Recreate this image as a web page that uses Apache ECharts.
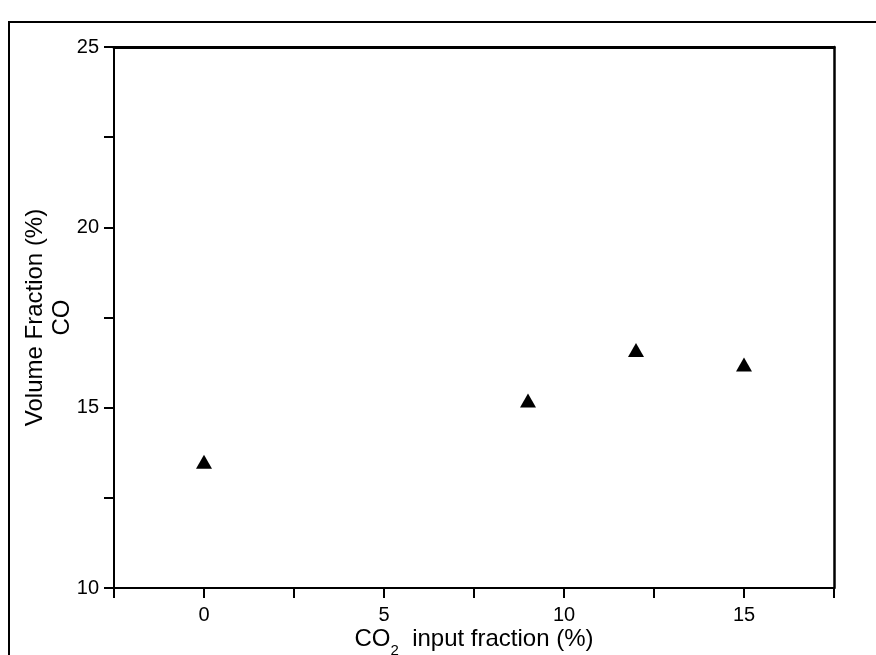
<!DOCTYPE html>
<html>
<head>
<meta charset="utf-8">
<script src="https://cdn.jsdelivr.net/npm/echarts@6/dist/echarts.min.js"></script>
<style>html,body{margin:0;padding:0;background:#fff}#c{width:876px;height:655px}</style>
</head>
<body>
<div id="c"></div>
<script>
const xValues = [0, 9, 12, 15];
const coValues = [13.5, 15.2, 16.6, 16.2];
const xTicks = [-2.5, 17.5, 5];
const yTicks = [10, 25, 5];

const chart = echarts.init(document.getElementById('c'));
const font = 'Liberation Sans, Arial, sans-serif';
chart.setOption({
  animation: false,
  backgroundColor: '#fff',
  graphic: [{
    type: 'rect', shape: {x: 9, y: 22, width: 900, height: 700},
    style: {fill: 'none', stroke: '#000', lineWidth: 2}, silent: true
  }],
  grid: {left: 114, right: 42, top: 47, bottom: 67, containLabel: false, outerBoundsMode: 'none'},
  xAxis: [{
    type: 'value', min: xTicks[0], max: xTicks[1], interval: 2.5,
    axisLine: {show: true, onZero: false, lineStyle: {color: '#000', width: 2}},
    axisTick: {show: true, length: 10, lineStyle: {color: '#000', width: 2}},
    splitLine: {show: false},
    axisLabel: {
      fontFamily: font, fontSize: 20, color: '#000', margin: 17,
      formatter: v => (v % xTicks[2] === 0 ? String(v) : '')
    },
    name: '{n|CO}{s|2}{n|  input fraction (%)}',
    nameLocation: 'middle', nameGap: 39, nameMoveOverlap: false,
    nameTextStyle: {
      rich: {
        n: {fontFamily: font, fontSize: 24, color: '#000'},
        s: {fontFamily: font, fontSize: 15, color: '#000', verticalAlign: 'bottom', padding: [0, 0, -7, 0]}
      }
    }
  }, {
    type: 'value', position: 'top', min: xTicks[0], max: xTicks[1],
    axisLine: {show: true, onZero: false, lineStyle: {color: '#000', width: 3}},
    axisTick: {show: false}, axisLabel: {show: false}, splitLine: {show: false}
  }],
  yAxis: [{
    type: 'value', min: yTicks[0], max: yTicks[1], interval: 2.5,
    axisLine: {show: true, onZero: false, lineStyle: {color: '#000', width: 2}},
    axisTick: {show: true, length: 10, lineStyle: {color: '#000', width: 2}},
    splitLine: {show: false},
    axisLabel: {
      fontFamily: font, fontSize: 20, color: '#000', margin: 15,
      formatter: v => (v % yTicks[2] === 0 ? String(v) : '')
    },
    name: 'Volume Fraction (%)\nCO',
    nameLocation: 'middle', nameGap: 38, nameRotate: 90, nameMoveOverlap: false,
    nameTextStyle: {fontFamily: font, fontSize: 24, color: '#000', lineHeight: 27, align: 'center'}
  }, {
    type: 'value', position: 'right', min: yTicks[0], max: yTicks[1],
    axisLine: {show: true, onZero: false, lineStyle: {color: '#000', width: 2.5}},
    axisTick: {show: false}, axisLabel: {show: false}, splitLine: {show: false}
  }],
  series: [{
    type: 'scatter',
    symbol: 'triangle',
    symbolSize: [16, 14],
    itemStyle: {color: '#000', opacity: 1},
    data: xValues.map((x, i) => [x, coValues[i]])
  }]
});
</script>
</body>
</html>
